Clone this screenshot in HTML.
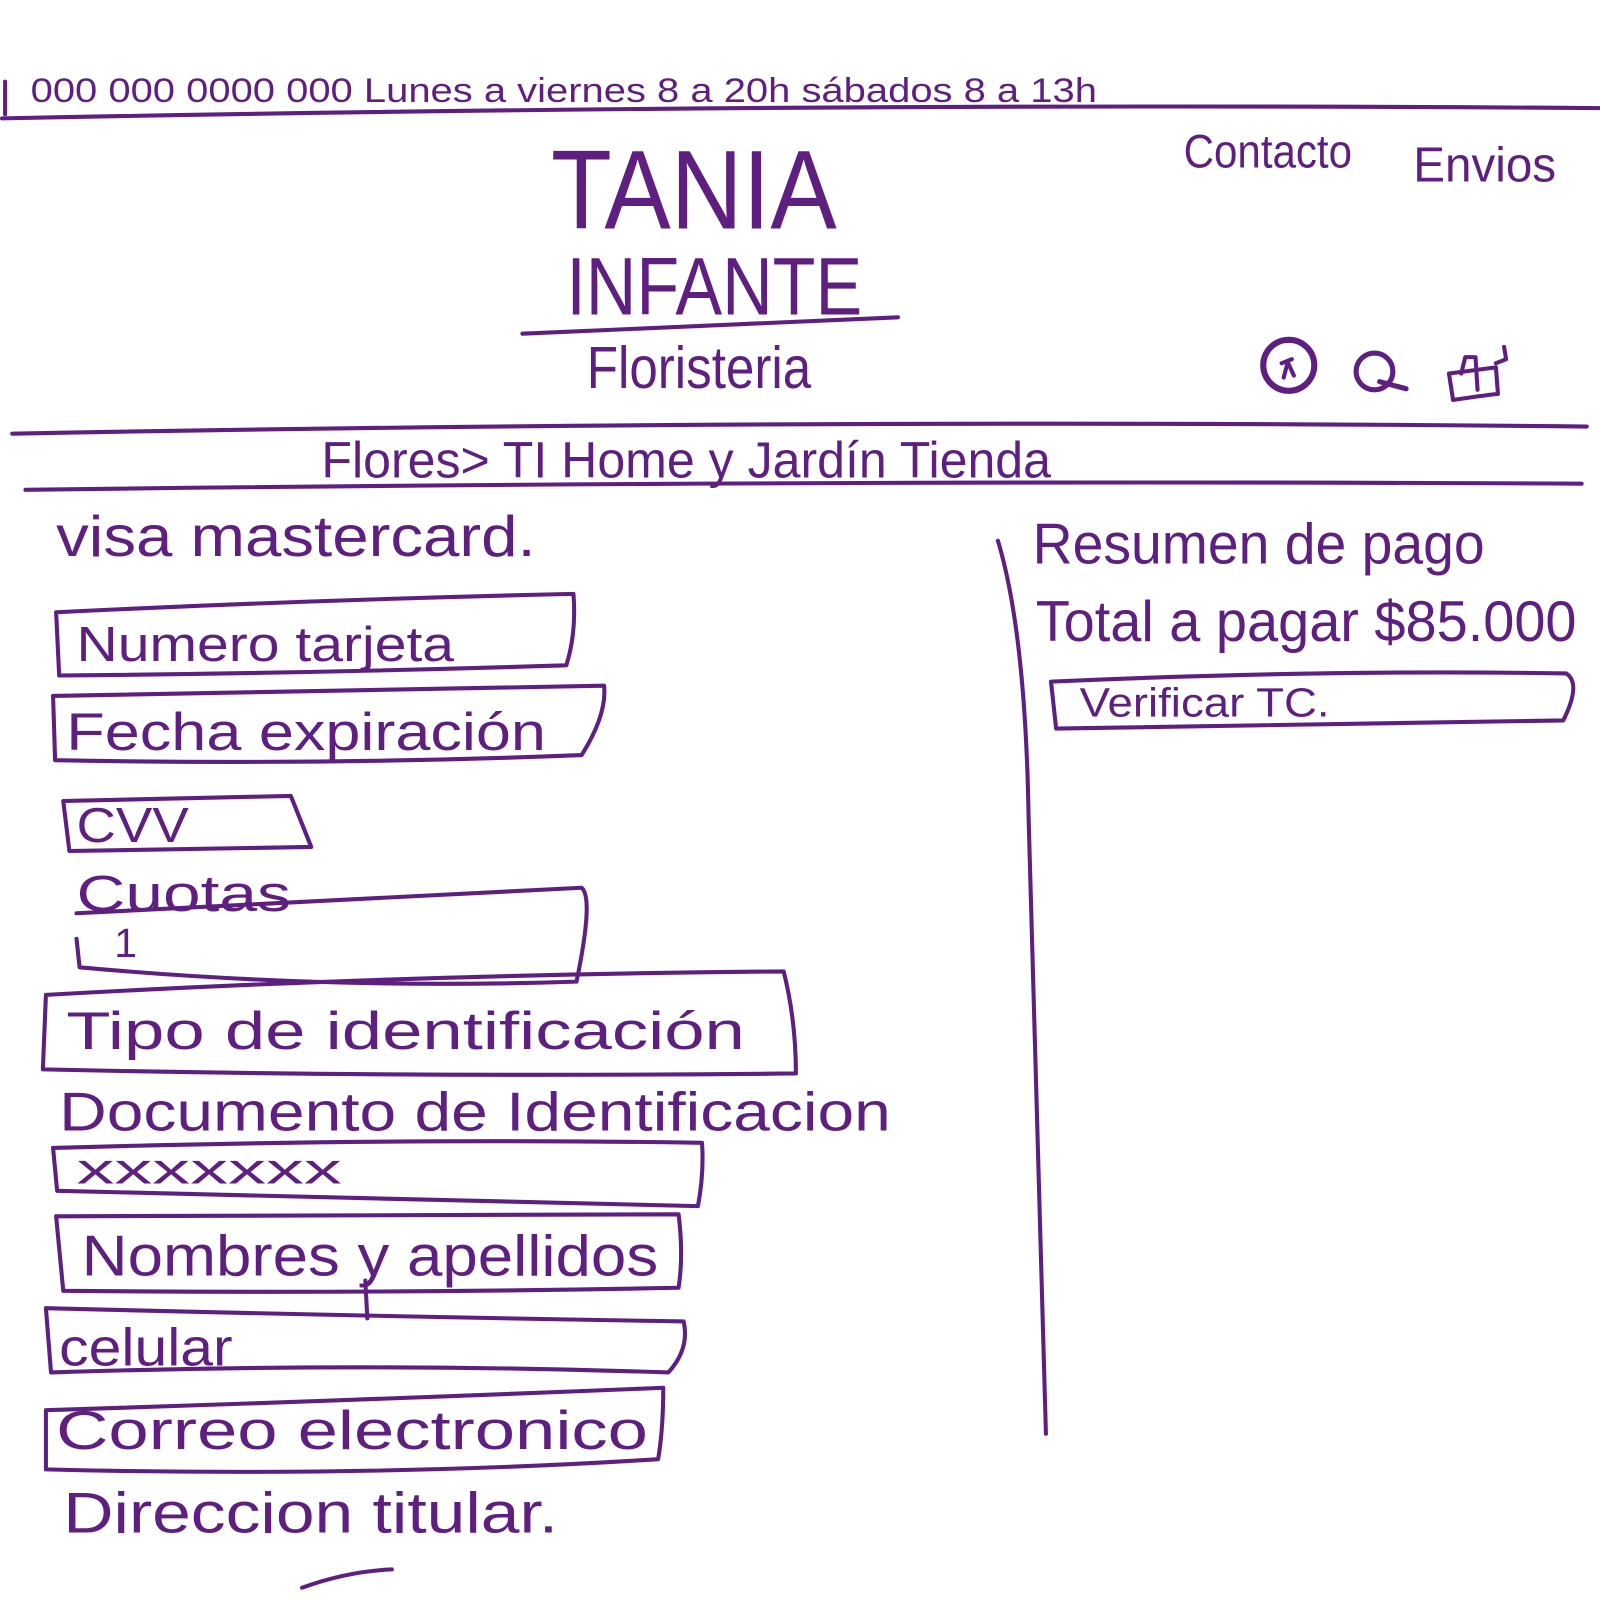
<!DOCTYPE html>
<html><head><meta charset="utf-8"><style>
html,body{margin:0;padding:0;background:#fff;width:1600px;height:1600px;overflow:hidden}
svg text{font-family:"Liberation Sans",sans-serif;fill:#5e1f80}
</style></head><body>
<svg width="1600" height="1600" viewBox="0 0 1600 1600" xmlns="http://www.w3.org/2000/svg">
<g transform="scale(1.0204)">
<g fill="none" stroke="#5e1f80" stroke-width="4" stroke-linecap="round" stroke-linejoin="round">
<path d="M2 116 Q800 100 1572 106"/>
<path d="M5 80 L5 112"/>
<path d="M512 327 L880 311"/>
<circle cx="1263" cy="358" r="25" stroke-width="6"/>
<path d="M1258 370 L1262 355 L1268 368 M1256 356 L1266 352"/>
<circle cx="1347" cy="364" r="18" stroke-width="5"/>
<path d="M1352 374 L1378 381" stroke-width="5"/>
<path d="M1420 366 L1424 392 Q1450 388 1468 386 L1466 360 Z M1432 366 L1436 350 L1446 350 L1448 382 M1466 356 L1476 352 L1474 340"/>
<path d="M12 425 Q800 410 1555 418"/>
<path d="M25 480 Q800 470 1550 474"/>
<path d="M978 530 Q1005 620 1008 800 L1025 1405"/>
<path d="M1030 668 Q1300 656 1535 660 Q1550 670 1532 706 Q1300 710 1035 714 Z"/>
<path d="M55 600 Q300 588 562 582 Q565 620 555 652 Q300 660 58 662 Z"/>
<path d="M52 682 Q330 676 592 672 Q595 700 570 740 Q320 750 54 745 Z"/>
<path d="M62 785 L285 780 L305 830 L68 834 Z"/>
<path d="M75 895 Q250 886 570 870 Q582 880 565 962 Q320 970 78 948 L75 920"/>
<path d="M45 975 Q400 955 768 952 Q780 1000 780 1052 Q400 1056 42 1048 Z"/>
<path d="M52 1125 Q400 1115 688 1120 Q690 1150 684 1182 Q380 1175 56 1167 Z"/>
<path d="M55 1192 Q360 1190 665 1190 Q670 1230 665 1262 Q360 1268 62 1265 Z"/>
<path d="M358 1255 L360 1292"/>
<path d="M45 1282 Q360 1290 670 1295 Q676 1322 655 1345 Q360 1335 50 1345 Z"/>
<path d="M45 1382 Q360 1372 650 1360 Q650 1400 645 1430 Q360 1448 45 1440 Z"/>
<path d="M296 1556 Q340 1540 384 1538"/>
</g>
<text x="30" y="100" font-size="34" textLength="1045" lengthAdjust="spacingAndGlyphs">000 000  0000 000   Lunes  a viernes  8 a 20h  sábados  8 a  13h</text>
<text x="540" y="224" font-size="110" textLength="280" lengthAdjust="spacingAndGlyphs">TANIA</text>
<text x="555" y="308" font-size="80" textLength="290" lengthAdjust="spacingAndGlyphs">INFANTE</text>
<text x="575" y="380" font-size="58" textLength="220" lengthAdjust="spacingAndGlyphs">Floristeria</text>
<text x="1160" y="164" font-size="46" textLength="165" lengthAdjust="spacingAndGlyphs">Contacto</text>
<text x="1385" y="178" font-size="48" textLength="140" lengthAdjust="spacingAndGlyphs">Envios</text>
<text x="315" y="468" font-size="50" textLength="715" lengthAdjust="spacingAndGlyphs">Flores&gt;   TI Home y Jardín    Tienda</text>
<text x="55" y="545" font-size="56" textLength="470" lengthAdjust="spacingAndGlyphs">visa  mastercard.</text>
<text x="1012" y="552" font-size="56" textLength="443" lengthAdjust="spacingAndGlyphs">Resumen  de  pago</text>
<text x="1015" y="628" font-size="56" textLength="530" lengthAdjust="spacingAndGlyphs">Total a pagar $85.000</text>
<text x="1058" y="702" font-size="40" textLength="245" lengthAdjust="spacingAndGlyphs">Verificar TC.</text>
<text x="75" y="648" font-size="48" textLength="370" lengthAdjust="spacingAndGlyphs">Numero tarjeta</text>
<text x="65" y="735" font-size="52" textLength="470" lengthAdjust="spacingAndGlyphs">Fecha  expiración</text>
<text x="75" y="825" font-size="48" textLength="110" lengthAdjust="spacingAndGlyphs">CVV</text>
<text x="75" y="893" font-size="50" textLength="210" lengthAdjust="spacingAndGlyphs">Cuotas</text>
<text x="112" y="938" font-size="40">1</text>
<text x="65" y="1028" font-size="52" textLength="665" lengthAdjust="spacingAndGlyphs">Tipo de  identificación</text>
<text x="58" y="1108" font-size="54" textLength="815" lengthAdjust="spacingAndGlyphs">Documento  de  Identificacion</text>
<text x="75" y="1160" font-size="42" textLength="260" lengthAdjust="spacingAndGlyphs">xxxxxxx</text>
<text x="80" y="1250" font-size="56" textLength="565" lengthAdjust="spacingAndGlyphs">Nombres  y  apellidos</text>
<text x="58" y="1338" font-size="52" textLength="170" lengthAdjust="spacingAndGlyphs">celular</text>
<text x="55" y="1420" font-size="54" textLength="580" lengthAdjust="spacingAndGlyphs">Correo  electronico</text>
<text x="62" y="1502" font-size="56" textLength="485" lengthAdjust="spacingAndGlyphs">Direccion  titular.</text>
</g>
</svg>
</body></html>
